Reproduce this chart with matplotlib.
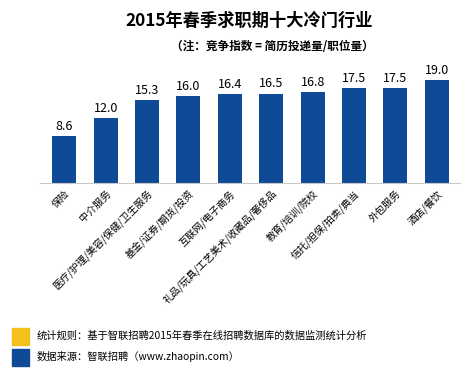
import matplotlib.pyplot as plt
from matplotlib.patches import Rectangle

plt.rcParams['font.family'] = ['Noto Sans CJK SC', 'DejaVu Sans']

# 行业与竞争指数
categories = ['保险', '中介服务', '医疗/护理/美容/保健/卫生服务', '基金/证券/期货/投资',
              '互联网/电子商务', '礼品/玩具/工艺美术/收藏品/奢侈品', '教育/培训/院校',
              '信托/担保/拍卖/典当', '外包服务', '酒店/餐饮']
values = [8.6, 12.0, 15.3, 16.0, 16.4, 16.5, 16.8, 17.5, 17.5, 19.0]

bar_color = '#0f4a96'
W, H = 476, 369

fig = plt.figure(figsize=(W / 100, H / 100), dpi=100)
ax = fig.add_axes([40 / W, (H - 183) / H, 420 / W, 108 / H])

x = list(range(len(values)))
bars = ax.bar(x, values, width=0.58, color=bar_color)
ax.set_xlim(-0.585, 9.56)
ax.set_ylim(0, 19.0 * 108 / 103)

for xi, v in zip(x, values):
    ax.text(xi, v + 0.6, f'{v:.1f}', ha='center', va='bottom', fontsize=9)

ax.set_xticks(x)
ax.set_xticklabels(categories, rotation=45, ha='right', rotation_mode='anchor', fontsize=7.2)
ax.tick_params(axis='x', length=0, pad=4)
ax.set_yticks([])
for s in ['top', 'left', 'right']:
    ax.spines[s].set_visible(False)
ax.spines['bottom'].set_color('#c8c8c8')
ax.spines['bottom'].set_linewidth(0.8)

fig.text(249 / W, 1 - 21 / H, '2015年春季求职期十大冷门行业', ha='center', va='center',
         fontsize=12.4, fontweight='bold')
fig.text(272 / W, 1 - 46 / H, '（注：竞争指数 = 简历投递量/职位量）', ha='center', va='center',
         fontsize=8.4, fontweight='bold')

# 底部说明
fig.patches.append(Rectangle((12 / W, 1 - 345 / H), 17 / W, 17 / H, transform=fig.transFigure,
                             color='#f2c21b'))
fig.patches.append(Rectangle((12 / W, 1 - 366 / H), 17 / W, 17 / H, transform=fig.transFigure,
                             color=bar_color))
fig.text(37 / W, 1 - 336 / H, '统计规则：基于智联招聘2015年春季在线招聘数据库的数据监测统计分析',
         ha='left', va='center', fontsize=7.4)
fig.text(37 / W, 1 - 357 / H, '数据来源：智联招聘（www.zhaopin.com）',
         ha='left', va='center', fontsize=7.4)

fig.savefig('out.png', dpi=100)
